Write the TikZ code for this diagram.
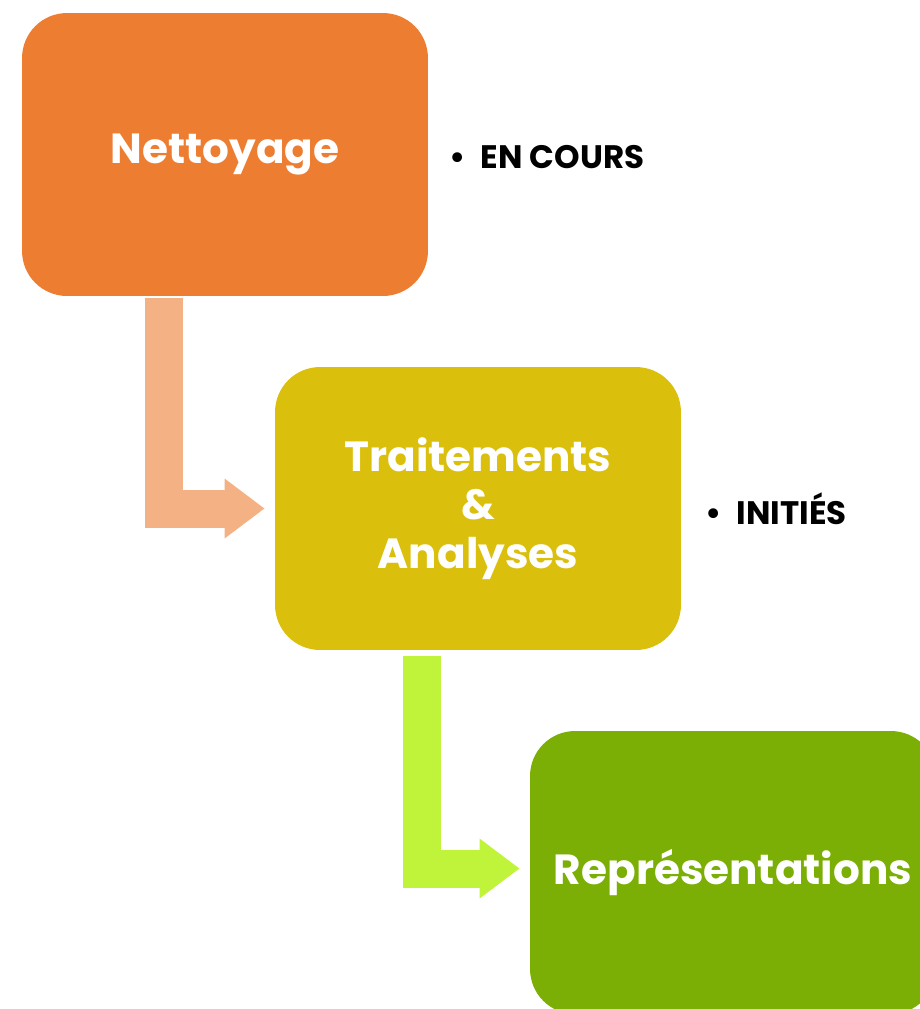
\documentclass[tikz,border=0pt]{standalone}
\usepackage{fontspec}
\setmainfont{Poppins}
\usepackage{tikz}
\usetikzlibrary{calc, positioning, arrows.meta}

\definecolor{boxorange}{HTML}{ED7D31}
\definecolor{arroworange}{HTML}{F4B183}
\definecolor{boxyellow}{HTML}{DBBF0D}
\definecolor{boxgreen}{HTML}{7BAF05}
\definecolor{arrowgreen}{HTML}{BFF43A}

\begin{document}
\begin{tikzpicture}[x=0.02cm, y=-0.02cm,
    roundednode/.style={rectangle, rounded corners=0.9cm, minimum width=8.12cm, minimum height=5.66cm, text=white, align=center, font=\bfseries\fontsize{24}{27.5}\selectfont},
    statusnode/.style={inner sep=0pt, anchor=west, font=\bfseries\fontsize{18.5}{22}\selectfont},
    bentarrow/.style={line width=0.76cm, -{Triangle[length=0.8cm, width=1.14cm]}, shorten >=0.2cm},
    ]
    \path[use as bounding box, clip] (0,0) rectangle (920,1009);

    %Nodes
    \node[roundednode, fill=boxorange] (nettoyage) at (225,154.5) {Nettoyage};
    \node[roundednode, fill=boxyellow] (traitements) at (478,508.5) {Traitements\\\&\\Analyses};
    \node[roundednode, fill=boxgreen] (representations) at (733,872.5) {Représentations};

    \node[statusnode, right=0.42cm of nettoyage, yshift=-0.05cm] (encours) {\textbullet\hspace{0.3cm}EN COURS};
    \node[statusnode, right=0.48cm of traitements] (inities) {\textbullet\hspace{0.3cm}INITIÉS};

    %Arrows
    \coordinate (start1) at ($(nettoyage.south west)!0.35!(nettoyage.south east)+(0,2)$);
    \coordinate (start2) at ($(traitements.south west)!0.362!(traitements.south east)+(0,6)$);
    \draw[bentarrow, draw=arroworange] (start1) |- (traitements.west);
    \draw[bentarrow, draw=arrowgreen] (start2) |- ($(representations.west)+(0,-4)$);
  \end{tikzpicture}
\end{document}
